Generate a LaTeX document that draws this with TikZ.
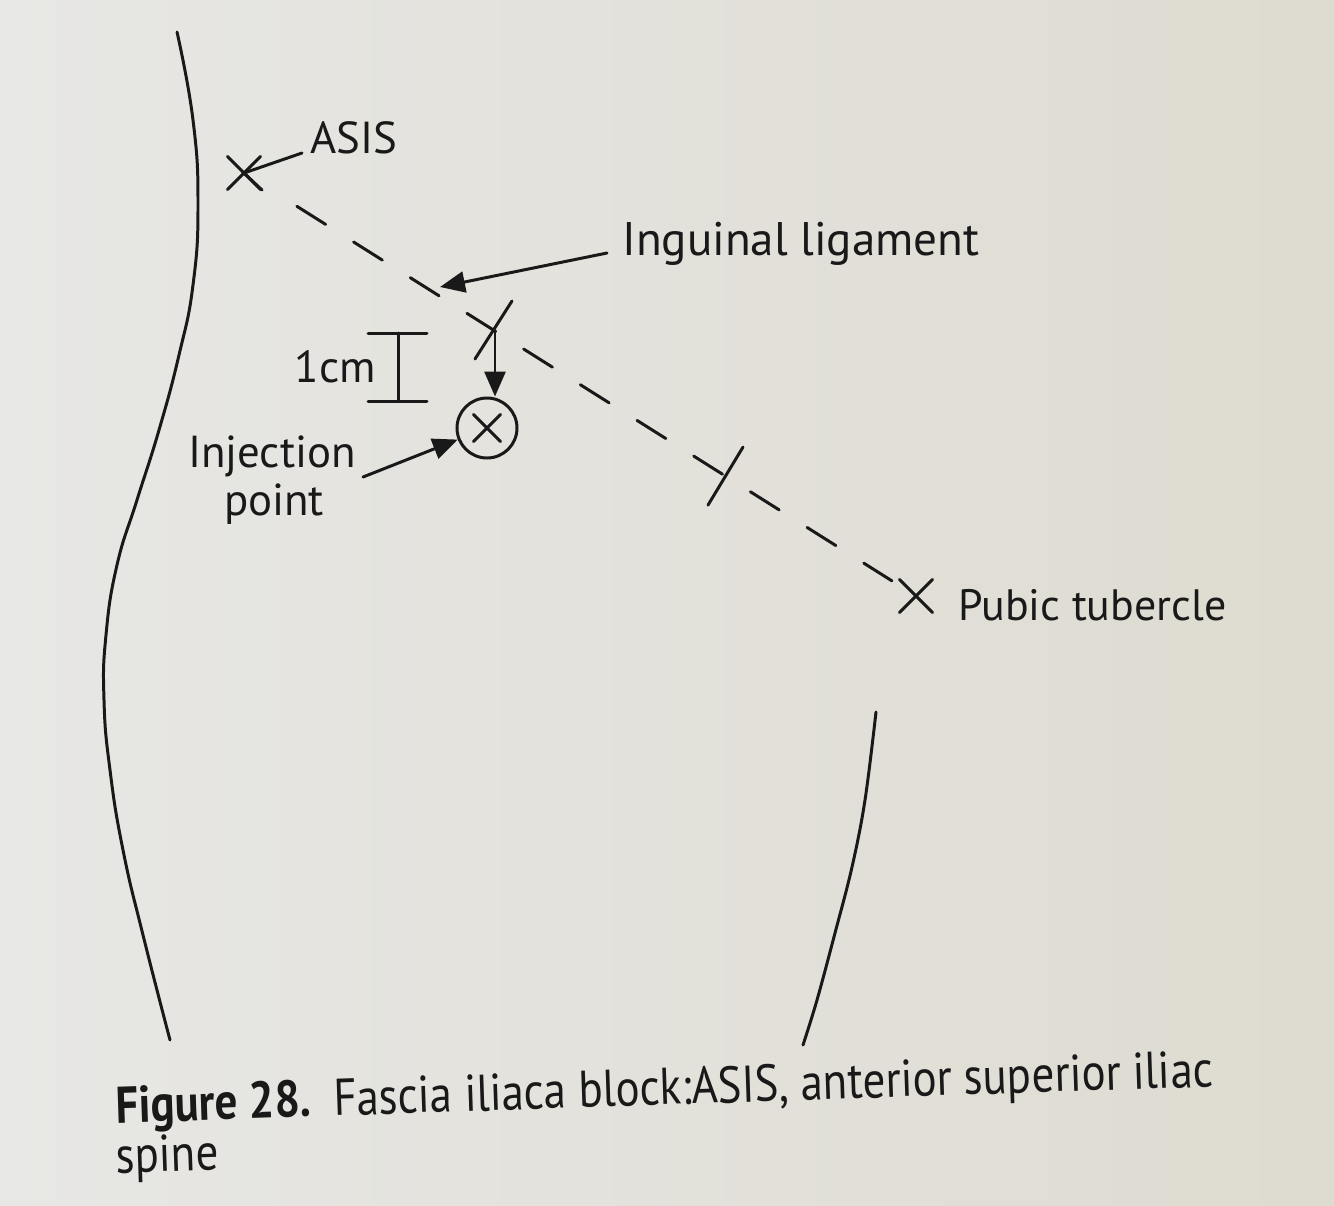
\documentclass[tikz,border=0pt]{standalone}
\usepackage{fontspec}
\setmainfont{PT Sans}
\usetikzlibrary{arrows.meta,calc,shapes.misc}
\definecolor{ink}{RGB}{25,25,25}
\definecolor{paperL}{RGB}{231,231,229}
\definecolor{paperR}{RGB}{222,219,208}
\begin{document}
\begin{tikzpicture}[x=0.02cm,y=-0.02cm,
  inkline/.style={draw=ink, line width=1.7pt, line cap=round},
  lbl/.style={font=\fontsize{25.5}{30}\selectfont, text=ink, inner sep=0pt},
  caplbl/.style={font=\fontsize{25.6}{30}\selectfont, text=ink, inner sep=0pt},
  tip/.style={-{Triangle[length=0.5cm,width=0.42cm]}},
  xmark/.style={cross out, draw=ink, line width=1.7pt, line cap=round, minimum size=0.6cm, inner sep=0pt}]
\shade[left color=paperL, right color=paperR] (0,0) rectangle (1334,1205);
\useasboundingbox (0,0) rectangle (1334,1205);

% body outlines
\draw[inkline] plot[smooth, tension=0.8] coordinates {(177,32) (193,120) (198,205) (193,285) (179,355) (159,430) (137,500) (117,565) (106,635) (104,700) (110,770) (123,850) (143,935) (170,1040)};
\draw[inkline] plot[smooth, tension=0.6] coordinates {(876,712) (865,800) (852,867) (835,933) (817,1000) (803,1045)};

% landmarks
\node[xmark] (asis) at (244,173) {};
\node[xmark] (pt) at (916,596) {};

% inguinal ligament (dashed)
\draw[inkline, dash pattern=on 0.68cm off 0.66cm, shorten <=1.25cm, shorten >=0.57cm] (asis.center) -- (pt.center);

% tick marks
\coordinate (t1) at ($(asis.center)!0.3735!(pt.center)$);
\coordinate (t2) at ($(asis.center)!0.7165!(pt.center)$);
\draw[inkline] ($(t1)+(17,-30)$) -- ($(t1)+(-20,28)$);
\draw[inkline] ($(t2)+(17.5,-29)$) -- ($(t2)+(-17.5,29)$);

% injection point
\node[circle, draw=ink, line width=1.7pt, minimum size=1.2cm, inner sep=0pt] (circ) at (487,428) {};
\node[xmark, minimum size=0.48cm] (circx) at (circ.center) {};
\draw[inkline, tip] (t1) -- (t1 |- circ.north);

% 1 cm bracket
\coordinate (b1) at (368,333);
\coordinate (b2) at (427,333);
\coordinate (b3) at (368,401);
\coordinate (b4) at (427,401);
\coordinate (b5) at (398,333);
\coordinate (b6) at (398,401);
\draw[inkline] (b1) -- (b2);
\draw[inkline] (b3) -- (b4);
\draw[inkline] (b5) -- (b6);
\node[lbl, anchor=base east] (cm) at (376,382) {1cm};

% labels
\node[lbl, anchor=base west] (asislbl) at (310,153) {ASIS};
\coordinate (asisstart) at (302,153);
\coordinate (asisarm) at (262,190);
\draw[inkline] (asisstart) -- (asis.center) -- (asisarm);

\node[lbl, anchor=base west, font=\fontsize{26.8}{30}\selectfont] (inglbl) at (622,255) {Inguinal ligament};
\coordinate (ingstart) at (607,253);
\coordinate (ingtip) at (440,287);
\draw[inkline, tip] (ingstart) -- (ingtip);

\node[lbl, anchor=base] (injA) at (272,467) {Injection};
\node[lbl, anchor=base] (injB) at (274,515) {point};
\coordinate (injstart) at (363,477);
\draw[inkline, tip] (injstart) -- (circ);

\node[lbl, anchor=base west, font=\fontsize{25}{30}\selectfont] (ptlbl) at (958,620) {Pubic tubercle};

% caption
\node[caplbl, anchor=base west, rotate=1.9] (cap1) at (116,1123) {\scalebox{1}[1.15]{\textbf{Figure 28.}\hspace{0.5em}Fascia iliaca block:ASIS, anterior superior iliac}};
\node[caplbl, anchor=base west, rotate=1.9] (cap2) at (116,1173) {\scalebox{1}[1.15]{spine}};
\end{tikzpicture}
\end{document}
